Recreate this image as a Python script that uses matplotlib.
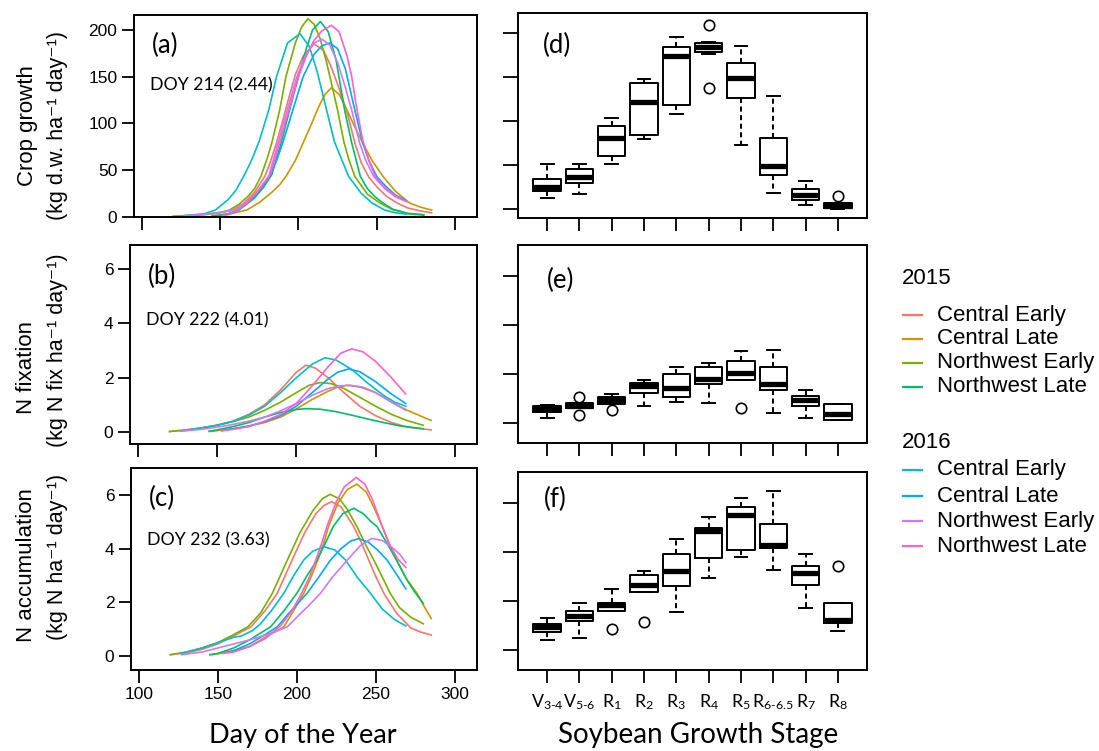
import matplotlib
matplotlib.use('Agg')
import matplotlib.pyplot as plt
from matplotlib.lines import Line2D

plt.rcParams['font.family'] = ['Liberation Sans', 'DejaVu Sans']
plt.rcParams['mathtext.fontset'] = 'custom'
plt.rcParams['mathtext.rm'] = 'Lato'
plt.rcParams['mathtext.it'] = 'Lato:italic'
plt.rcParams['mathtext.bf'] = 'Lato:bold'

W, H = 1099, 751
CAL = ['Lato', 'DejaVu Sans']

# series order: 2015 CE, CL, NWE, NWL, 2016 CE, CL, NWE, NWL
years = ['2015', '2016']
series_names = ['Central Early', 'Central Late', 'Northwest Early', 'Northwest Late'] * 2
colors = ['#F8766D', '#CD9600', '#7CAE00', '#00BE67', '#00BFC4', '#00A9FF', '#C77CFF', '#FF61CC']

# ---- (a) crop growth, kg d.w. / ha / day ----
grow_ce15_day = [120, 130, 140, 150, 158, 165, 172, 178.5, 182, 186, 190, 194, 198, 203, 210, 216, 221, 226, 231, 236, 240, 245, 250, 256, 263, 270, 278, 285]
grow_ce15 = [0.3, 1, 2, 4, 7, 14, 26, 43, 58, 79, 103, 128, 152, 172, 185, 178, 160, 137, 112, 79, 58, 42, 32, 22, 14.5, 9, 6, 4]
grow_cl15_day = [145, 150, 158, 167, 175, 183, 188, 192, 198, 203, 208, 213, 217, 221, 226, 231, 236, 241, 247, 254, 262, 271, 278, 285]
grow_cl15 = [0.8, 1.5, 3.5, 7, 15, 26, 34, 43, 60, 79, 98, 118, 131, 138, 131, 114, 96, 79, 60, 43, 27, 14.5, 10, 7]
grow_nwe15_day = [120, 130, 140, 150, 156, 162, 168, 172, 176, 180, 183, 188, 192, 198, 202, 206, 210, 214, 218, 222, 225, 229, 232, 236, 244, 252, 260, 270, 280]
grow_nwe15 = [0.3, 1, 2.3, 4.2, 7, 13, 22, 30, 43, 62, 79, 114, 150, 186, 203, 212, 206, 190, 165, 136, 114, 80, 62, 43, 24, 14.5, 7.5, 3.5, 2]
grow_nwl15_day = [145, 150, 155, 161, 166, 172, 178, 183, 189, 194, 200, 205, 209, 214, 219, 224, 229.5, 234, 239.5, 244, 249, 254, 260, 270, 280]
grow_nwl15 = [0.8, 1.5, 3, 7, 12, 20, 32, 45, 79, 112, 150, 180, 200, 209, 198, 168, 114, 79, 43, 30, 21, 14.5, 8, 3, 1.5]
grow_ce16_day = [127, 140, 147, 155, 160, 165, 170, 175, 181, 186, 193, 201, 207, 212, 218, 223, 232, 240, 247, 255, 262, 269]
grow_ce16 = [1, 3, 7, 18, 28, 43, 60, 81, 114, 150, 186, 196, 182, 155, 114, 80, 43, 25, 14.5, 7, 4, 2.5]
grow_cl16_day = [153, 157, 162, 170, 177, 182, 186, 190, 196, 203, 210, 215, 220, 225, 230, 236, 241, 245, 250, 256, 262, 269]
grow_cl16 = [1.5, 3, 7, 18, 32, 45, 60, 79, 112, 150, 174, 183, 186, 180, 158, 114, 79, 60, 43, 32, 23, 17]
grow_nwe16_day = [127, 140, 150, 159.5, 166, 174, 181, 187, 193, 199, 205, 210, 215, 220, 225, 230, 234, 239, 243, 248, 255, 262, 269]
grow_nwe16 = [0.8, 2.5, 4.5, 7, 14, 27, 43, 79, 115, 150, 174, 186, 190, 184, 165, 138, 114, 79, 60, 43, 30, 21, 16]
grow_nwl16_day = [153, 157, 161, 167, 174, 182, 188, 194, 200, 205, 210, 215, 221, 226, 231, 234, 237, 241, 245, 249, 255, 262, 269]
grow_nwl16 = [1.5, 3.5, 7, 14, 27, 45, 79, 115, 150, 172, 189, 199, 205, 198, 172, 150, 118, 82, 60, 43, 31, 22, 16]

# ---- (b) N fixation ----
fix_ce15_day = [120, 130, 140, 150, 160, 170, 180, 190, 200, 206, 212, 220, 230, 240, 250, 260, 270, 285]
fix_ce15 = [0.02, 0.08, 0.15, 0.25, 0.4, 0.65, 1.0, 1.55, 2.2, 2.46, 2.35, 2.0, 1.45, 0.95, 0.6, 0.35, 0.18, 0.08]
fix_cl15_day = [145, 150, 160, 170, 180, 190, 200, 210, 220, 226, 232, 240, 250, 260, 270, 280, 285]
fix_cl15 = [0.02, 0.05, 0.12, 0.22, 0.35, 0.55, 0.85, 1.2, 1.5, 1.65, 1.72, 1.66, 1.45, 1.1, 0.8, 0.55, 0.43]
fix_nwe15_day = [120, 130, 140, 150, 160, 170, 180, 190, 200, 208, 215, 222, 230, 240, 250, 260, 270, 280]
fix_nwe15 = [0.02, 0.07, 0.15, 0.25, 0.38, 0.55, 0.8, 1.1, 1.45, 1.72, 1.82, 1.78, 1.6, 1.28, 0.95, 0.65, 0.42, 0.25]
fix_nwl15_day = [145, 150, 160, 170, 180, 190, 200, 206, 215, 225, 235, 245, 255, 265, 280]
fix_nwl15 = [0.03, 0.08, 0.2, 0.35, 0.55, 0.72, 0.83, 0.86, 0.84, 0.75, 0.62, 0.48, 0.35, 0.23, 0.12]
fix_ce16_day = [127, 140, 150, 160, 170, 180, 190, 200, 210, 218, 225, 235, 245, 255, 262, 269]
fix_ce16 = [0.03, 0.15, 0.25, 0.4, 0.62, 0.95, 1.45, 2.0, 2.5, 2.73, 2.65, 2.3, 1.8, 1.35, 1.1, 0.95]
fix_cl16_day = [153, 160, 170, 180, 190, 200, 210, 220, 226, 233, 240, 250, 260, 269]
fix_cl16 = [0.05, 0.12, 0.22, 0.38, 0.6, 0.95, 1.45, 1.95, 2.2, 2.32, 2.22, 1.85, 1.4, 1.05]
fix_nwe16_day = [127, 140, 150, 160, 170, 180, 190, 200, 210, 220, 228, 234, 242, 250, 260, 269]
fix_nwe16 = [0.03, 0.1, 0.18, 0.28, 0.4, 0.55, 0.78, 1.05, 1.35, 1.6, 1.7, 1.72, 1.65, 1.45, 1.1, 0.8]
fix_nwl16_day = [153, 160, 170, 180, 190, 200, 210, 220, 228, 235, 242, 250, 260, 269]
fix_nwl16 = [0.05, 0.1, 0.2, 0.4, 0.65, 1.05, 1.7, 2.4, 2.9, 3.06, 2.95, 2.6, 2.0, 1.4]

# ---- (c) N accumulation ----
acc_ce15_day = [120, 130, 140, 150, 160, 171, 180, 187.6, 197, 205, 212, 217, 222, 228, 236, 241, 245.4, 250, 255, 263, 272, 278, 285]
acc_ce15 = [0.05, 0.12, 0.25, 0.45, 0.75, 1.09, 1.7, 2.34, 3.58, 4.6, 5.3, 5.6, 5.75, 5.55, 4.82, 4.2, 3.58, 2.95, 2.34, 1.6, 1.05, 0.9, 0.78]
acc_cl15_day = [145, 150, 160, 170, 180, 191.8, 198, 204.4, 209, 213.3, 217, 220, 226, 232, 238, 244, 249, 254, 259, 263, 269, 276, 281, 285]
acc_cl15 = [0.05, 0.08, 0.2, 0.35, 0.7, 1.09, 1.7, 2.34, 2.95, 3.58, 4.2, 4.82, 5.7, 6.2, 6.4, 6.1, 5.5, 4.82, 4.1, 3.58, 2.9, 2.34, 1.8, 1.4]
acc_nwe15_day = [120, 130, 140, 150, 160, 169, 177, 184.5, 194, 202, 210, 216, 221, 227, 232, 238, 243, 248.6, 254, 259, 265, 272, 280]
acc_nwe15 = [0.05, 0.15, 0.3, 0.5, 0.8, 1.09, 1.6, 2.34, 3.58, 4.6, 5.4, 5.85, 6.02, 5.85, 5.45, 4.82, 4.2, 3.58, 2.95, 2.34, 1.8, 1.45, 1.2]
acc_nwl15_day = [145, 150, 160, 170, 183.4, 192, 200, 206, 212.8, 218, 223, 229, 236, 242, 247, 250.7, 257, 263, 270, 275, 280]
acc_nwl15 = [0.05, 0.1, 0.3, 0.6, 1.09, 1.7, 2.34, 2.95, 3.58, 4.2, 4.82, 5.3, 5.5, 5.3, 5.0, 4.82, 4.2, 3.58, 2.8, 2.35, 1.96]
acc_ce16_day = [127, 140, 150, 160, 165, 172, 177, 184, 191.8, 198, 204.4, 210, 217, 224, 230.7, 238, 246.5, 254, 262, 269]
acc_ce16 = [0.1, 0.3, 0.5, 0.7, 0.75, 0.95, 1.2, 1.7, 2.34, 3.0, 3.58, 3.9, 4.07, 3.95, 3.58, 2.95, 2.34, 1.75, 1.35, 1.12]
acc_cl16_day = [153, 160, 170, 180, 187.6, 195, 206.5, 214, 221.3, 228, 234, 239, 245, 251, 257, 263, 269]
acc_cl16 = [0.1, 0.2, 0.45, 0.8, 1.09, 1.6, 2.34, 2.95, 3.58, 4.0, 4.28, 4.37, 4.25, 3.95, 3.58, 3.05, 2.5]
acc_nwe16_day = [127, 140, 150, 160, 170, 180, 187, 194, 200, 207, 215, 222, 232, 240, 247.5, 254, 260, 265, 269]
acc_nwe16 = [0.05, 0.15, 0.3, 0.45, 0.6, 0.78, 0.92, 1.09, 1.45, 1.85, 2.34, 2.9, 3.58, 4.1, 4.38, 4.3, 4.05, 3.8, 3.48]
acc_nwl16_day = [153, 160, 170, 180, 190, 197, 203, 208, 212, 216, 219, 225, 230, 237.6, 243, 248, 254, 259, 264, 269]
acc_nwl16 = [0.1, 0.15, 0.35, 0.65, 1.15, 1.7, 2.34, 2.95, 3.58, 4.25, 4.82, 5.75, 6.3, 6.65, 6.4, 5.8, 4.82, 4.1, 3.6, 3.3]

# ---- boxplots by growth stage ----
stages = [r'V$_\text{3-4}$', r'V$_\text{5-6}$', r'R$_1$', r'R$_2$', r'R$_3$', r'R$_4$',
          r'R$_5$', r'R$_\text{6-6.5}$', r'R$_7$', r'R$_8$']

d_med = [24.7, 36.8, 81.2, 122.2, 174.2, 184.8, 148.8, 49.3, 15.9, 3.4]
d_q1 = [20.9, 30.0, 60.7, 84.3, 118.0, 179.1, 126.0, 38.7, 10.2, 0.8]
d_q3 = [33.8, 45.5, 94.5, 143.8, 184.1, 188.6, 165.8, 81.2, 23.5, 7.2]
d_lo = [13.3, 17.1, 50.9, 79.3, 108.2, 176.1, 72.9, 18.6, 5.3, 0.0]
d_hi = [50.9, 50.9, 103.2, 148.0, 196.2, 189.5, 186.0, 128.7, 31.9, 7.2]
d_out = [[], [], [], [], [], [209.5, 137.4], [], [], [], [14.8]]

e_med = [0.57, 0.70, 0.93, 1.51, 1.41, 1.81, 2.06, 1.61, 0.93, 0.35]
e_q1 = [0.45, 0.61, 0.79, 1.23, 1.06, 1.58, 1.75, 1.34, 0.70, 0.11]
e_q3 = [0.70, 0.82, 1.06, 1.64, 1.99, 2.29, 2.52, 2.29, 1.10, 0.76]
e_lo = [0.22, 0.61, 0.79, 0.71, 0.86, 0.82, 1.75, 0.41, 0.22, 0.11]
e_hi = [0.72, 0.82, 1.17, 1.75, 2.29, 2.46, 2.93, 3.00, 1.34, 0.79]
e_out = [[], [1.04, 0.34], [0.52], [], [], [], [0.59], [], [], []]

f_med = [0.92, 1.38, 1.83, 2.67, 3.22, 4.86, 5.50, 4.28, 3.15, 1.22]
f_q1 = [0.75, 1.18, 1.59, 2.35, 2.61, 3.77, 4.07, 4.18, 2.65, 1.11]
f_q3 = [1.06, 1.59, 1.93, 3.05, 3.93, 4.99, 5.86, 5.13, 3.42, 1.90]
f_lo = [0.41, 0.47, 1.59, 2.35, 1.53, 2.92, 3.80, 3.26, 1.72, 0.79]
f_hi = [1.29, 1.93, 2.48, 3.23, 4.55, 5.45, 6.21, 6.51, 3.93, 1.90]
f_out = [[], [], [0.84], [1.13], [], [], [], [], [], [3.43]]


def px_rect(x0, y0, x1, y1):
    return [x0 / W, 1 - y1 / H, (x1 - x0) / W, (y1 - y0) / H]


def style_axes(ax):
    for sp in ax.spines.values():
        sp.set_linewidth(1.4)
    ax.tick_params(direction='out', length=9, width=1.3, labelsize=12.5, pad=3)


fig = plt.figure(figsize=(W / 100, H / 100), dpi=100)

ax_a = fig.add_axes(px_rect(134, 15, 477, 217))
ax_b = fig.add_axes(px_rect(130, 245, 477, 444))
ax_c = fig.add_axes(px_rect(131, 468, 477, 670))
ax_d = fig.add_axes(px_rect(518, 13, 867, 218))
ax_e = fig.add_axes(px_rect(518, 245, 867, 443))
ax_f = fig.add_axes(px_rect(518, 472, 867, 670))

curves = [
    (ax_a, [(grow_ce15_day, grow_ce15), (grow_cl15_day, grow_cl15), (grow_nwe15_day, grow_nwe15),
            (grow_nwl15_day, grow_nwl15), (grow_ce16_day, grow_ce16), (grow_cl16_day, grow_cl16),
            (grow_nwe16_day, grow_nwe16), (grow_nwl16_day, grow_nwl16)]),
    (ax_b, [(fix_ce15_day, fix_ce15), (fix_cl15_day, fix_cl15), (fix_nwe15_day, fix_nwe15),
            (fix_nwl15_day, fix_nwl15), (fix_ce16_day, fix_ce16), (fix_cl16_day, fix_cl16),
            (fix_nwe16_day, fix_nwe16), (fix_nwl16_day, fix_nwl16)]),
    (ax_c, [(acc_ce15_day, acc_ce15), (acc_cl15_day, acc_cl15), (acc_nwe15_day, acc_nwe15),
            (acc_nwl15_day, acc_nwl15), (acc_ce16_day, acc_ce16), (acc_cl16_day, acc_cl16),
            (acc_nwe16_day, acc_nwe16), (acc_nwl16_day, acc_nwl16)]),
]

for ax, series in curves:
    for i, (days, vals) in enumerate(series):
        ax.plot(days, vals, color=colors[i], lw=1.2, solid_joinstyle='round')

left_cfg = [
    (ax_a, (-0.5, 216), [0, 50, 100, 150, 200], ('Crop growth', '(kg d.w. ha⁻¹ day⁻¹)'), (126, 125),
     '(a)', 'DOY 214 (2.44)', 0.85, 0.65),
    (ax_b, (-0.44, 6.88), [0, 2, 4, 6], ('N fixation', '(kg N fix ha⁻¹ day⁻¹)'), (368, 350),
     '(b)', 'DOY 222 (4.01)', 0.84, 0.62),
    (ax_c, (-0.52, 7.0), [0, 2, 4, 6], ('N accumulation', '(kg N ha⁻¹ day⁻¹)'), (565, 557),
     '(c)', 'DOY 232 (3.63)', 0.85, 0.64),
]
for ax, ylim, yt, ylab, ly, tag, doy, ty, dy in left_cfg:
    style_axes(ax)
    ax.set_xlim(95, 314)
    ax.set_ylim(*ylim)
    ax.set_xticks([100, 150, 200, 250, 300])
    ax.set_yticks(yt)
    fig.text(27 / W, 1 - ly[0] / H, ylab[0], rotation=90, fontsize=16, ha='center', va='center')
    fig.text(57 / W, 1 - ly[1] / H, ylab[1], rotation=90, fontsize=15.5, ha='center', va='center')
    ax.text(0.052, ty, tag, transform=ax.transAxes, fontsize=18.5, family=CAL, va='center', ha='left')
    ax.text(0.047, dy, doy, transform=ax.transAxes, fontsize=12.7, family=CAL, va='center', ha='left')
    if ax is not ax_c:
        ax.tick_params(labelbottom=False)

box_cfg = [
    (ax_d, (d_med, d_q1, d_q3, d_lo, d_hi, d_out), (-10, 223), [0, 50, 100, 150, 200], '(d)', 0.07, 0.84),
    (ax_e, (e_med, e_q1, e_q3, e_lo, e_hi, e_out), (-0.82, 7.27), [0, 2, 4, 6], '(e)', 0.084, 0.82),
    (ax_f, (f_med, f_q1, f_q3, f_lo, f_hi, f_out), (-0.82, 7.27), [0, 2, 4, 6], '(f)', 0.075, 0.86),
]
positions = list(range(1, len(stages) + 1))
for ax, (med, q1, q3, lo, hi, out), ylim, yt, tag, tx, ty in box_cfg:
    stats = [dict(med=med[k], q1=q1[k], q3=q3[k], whislo=lo[k], whishi=hi[k], fliers=out[k])
             for k in range(len(stages))]
    ax.bxp(stats, positions=positions, widths=0.85, capwidths=0.4, manage_ticks=False,
           boxprops=dict(color='black', lw=1.4),
           medianprops=dict(color='black', lw=3.8, solid_capstyle='butt'),
           whiskerprops=dict(color='black', lw=1.4, ls=(0, (2.6, 1.8))),
           capprops=dict(color='black', lw=1.4),
           flierprops=dict(marker='o', mfc='none', mec='black', ms=7.5, mew=1.2))
    style_axes(ax)
    ax.tick_params(axis='y', length=11)
    ax.set_xlim(0.1, 10.9)
    ax.set_ylim(*ylim)
    ax.set_yticks(yt)
    ax.set_xticks(positions)
    ax.tick_params(labelleft=False)
    if ax is ax_f:
        ax.set_xticklabels(stages, family=CAL, fontsize=12.8)
        ax.tick_params(axis='x', pad=7)
    else:
        ax.tick_params(labelbottom=False)
    ax.text(tx, ty, tag, transform=ax.transAxes, fontsize=18.5, family=CAL, va='center', ha='left')

fig.text(303 / W, 1 - 735 / H, 'Day of the Year', fontsize=19.5, family=CAL, ha='center', va='center')
fig.text(698 / W, 1 - 735 / H, 'Soybean Growth Stage', fontsize=20, family=CAL, ha='center', va='center')

# legend, drawn as two titled blocks
legend_title_y = [278, 442]
legend_rows_y = [[315, 339, 363, 387], [470, 496, 521, 546]]
for g, year in enumerate(years):
    fig.text(902 / W, 1 - legend_title_y[g] / H, year, fontsize=16, ha='left', va='center')
    for r in range(4):
        k = g * 4 + r
        yy = 1 - legend_rows_y[g][r] / H
        fig.add_artist(Line2D([903 / W, 922 / W], [yy, yy], transform=fig.transFigure,
                              color=colors[k], lw=1.6))
        fig.text(937 / W, yy, series_names[k], fontsize=16, ha='left', va='center')

fig.savefig('out.png', dpi=100)
